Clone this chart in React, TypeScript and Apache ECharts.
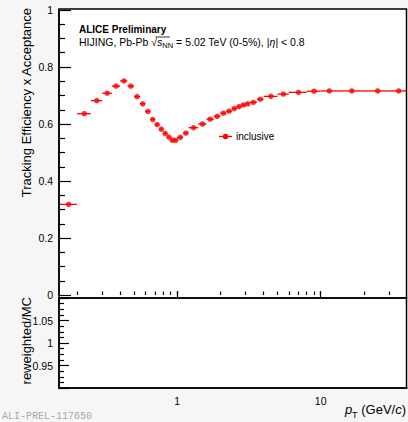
import React, { useEffect, useRef } from 'react';
import * as echarts from 'echarts';

// pT bin edges (GeV/c)
const binEdges = [
  0.15, 0.2, 0.25, 0.3, 0.35, 0.4, 0.45, 0.5, 0.55, 0.6, 0.65, 0.7, 0.75, 0.8, 0.85, 0.9, 0.95, 1.0,
  1.1, 1.2, 1.4, 1.6, 1.8, 2.0, 2.2, 2.4, 2.6, 2.8, 3.0, 3.2, 3.6, 4.0, 5.0, 6.0, 8.0, 10, 13, 20, 30, 40,
];
// Tracking efficiency x acceptance ("inclusive")
const efficiency = [
  0.318, 0.636, 0.682, 0.708, 0.733, 0.751, 0.733, 0.696, 0.671, 0.644, 0.616, 0.598, 0.582, 0.567,
  0.554, 0.543, 0.543, 0.553, 0.568, 0.587, 0.6, 0.617, 0.627, 0.638, 0.645, 0.654, 0.661, 0.667,
  0.671, 0.676, 0.687, 0.697, 0.705, 0.711, 0.715, 0.716, 0.716, 0.716, 0.716,
];
const xMajorTicks = [1, 10];
const xMinorTicks = [0.2, 0.3, 0.4, 0.5, 0.6, 0.7, 0.8, 0.9, 2, 3, 4, 5, 6, 7, 8, 9, 20, 30];
const xMin = 0.15;
const xMax = 40;
const legendLabel = 'inclusive';
const yTitleTop = 'Tracking Efficiency x Acceptance';
const yTitleBottom = 'reweighted/MC';

const FONT = '"Liberation Sans", Arial, Helvetica, sans-serif';
const RED = '#ff0000';

export default function App() {
  const ref = useRef<HTMLDivElement>(null);
  useEffect(() => {
    const chart = echarts.init(ref.current!, null, { renderer: 'svg' });
    const errData = efficiency.map((e, i) => [binEdges[i], binEdges[i + 1], e]);
    const pts = efficiency.map((e, i) => [(binEdges[i] + binEdges[i + 1]) / 2, e]);
    const black = { color: '#000' };
    const option: any = {
      animation: false,
      backgroundColor: '#f6f6f6',
      textStyle: { fontFamily: FONT },
      grid: [
        { left: 59, top: 10, width: 348, height: 285 },
        { left: 59, top: 298, width: 348, height: 90 },
      ],
      xAxis: [
        {
          type: 'log', gridIndex: 0, position: 'bottom', min: xMin, max: xMax, offset: 3,
          axisLine: { show: false },
          axisTick: { show: true, inside: true, length: 3.5, customValues: [...xMinorTicks, ...xMajorTicks], lineStyle: { ...black, width: 1.2 } },
          axisLabel: { show: false },
          splitLine: { show: false },
        },
        {
          type: 'log', gridIndex: 1, position: 'bottom', min: xMin, max: xMax,
          axisLine: { show: true, lineStyle: { ...black, width: 1.5 } },
          axisTick: { show: false },
          axisLabel: {
            show: true, customValues: xMajorTicks, fontSize: 10.5, color: '#000', margin: 7, fontFamily: FONT,
            formatter: (v: number) => String(v),
          },
          splitLine: { show: false },
        },
        {
          // long ticks at the decades, pointing up into the upper panel from the shared edge
          type: 'log', gridIndex: 1, position: 'top', min: xMin, max: xMax,
          axisLine: { show: false },
          axisTick: { show: true, inside: false, length: 7, customValues: xMajorTicks, lineStyle: { ...black, width: 1.2 } },
          axisLabel: { show: false },
          splitLine: { show: false },
        },
      ],
      yAxis: [
        {
          type: 'value', gridIndex: 0, position: 'left', min: 0, max: 1, interval: 0.2,
          axisLine: { show: true, lineStyle: { ...black, width: 1.5 } },
          axisTick: { show: true, inside: true, length: 12, lineStyle: { ...black, width: 1.2 } },
          minorTick: { show: true, splitNumber: 4, length: 6, lineStyle: { ...black, width: 1.2 } },
          axisLabel: { fontSize: 10.5, color: '#000', margin: 6, fontFamily: FONT },
          splitLine: { show: false },
        },
        {
          type: 'value', gridIndex: 1, position: 'left', min: 0.9, max: 1.1, interval: 0.05,
          axisLine: { show: true, lineStyle: { ...black, width: 1.5 } },
          axisTick: { show: true, inside: true, length: 10, lineStyle: { ...black, width: 1.2 } },
          minorTick: { show: true, splitNumber: 4, length: 5, lineStyle: { ...black, width: 1.2 } },
          axisLabel: { fontSize: 10.5, color: '#000', margin: 6, fontFamily: FONT, showMinLabel: false, showMaxLabel: false },
          splitLine: { show: false },
        },
      ],
      series: [
        {
          type: 'custom', name: legendLabel, xAxisIndex: 0, yAxisIndex: 0,
          data: errData,
          encode: { x: [0, 1], y: 2 },
          renderItem: (params: any, api: any) => {
            const a = api.coord([api.value(0), api.value(2)]);
            const b = api.coord([api.value(1), api.value(2)]);
            return {
              type: 'line',
              shape: { x1: a[0], y1: a[1], x2: b[0], y2: b[1] },
              style: { stroke: RED, lineWidth: 1.3 },
            };
          },
          z: 3,
        },
        {
          type: 'scatter', name: legendLabel, xAxisIndex: 0, yAxisIndex: 0,
          data: pts, symbol: 'circle', symbolSize: 5.5,
          itemStyle: { color: RED }, z: 4,
        },
        {
          type: 'scatter', name: 'ratio', xAxisIndex: 1, yAxisIndex: 1, data: [],
        },
      ],
      graphic: [
        { type: 'rect', z: -10, shape: { x: 59, y: 9, width: 348, height: 289 }, style: { fill: '#fff' }, silent: true },
        { type: 'rect', z: -10, shape: { x: 59, y: 298, width: 348, height: 90 }, style: { fill: '#fff' }, silent: true },
        { type: 'rect', z: 100, shape: { x: 59, y: 9, width: 347.5, height: 289 }, style: { fill: 'none', stroke: '#000', lineWidth: 1.5 }, silent: true },
        { type: 'rect', z: 100, shape: { x: 59, y: 298, width: 347.5, height: 90 }, style: { fill: 'none', stroke: '#000', lineWidth: 1.5 }, silent: true },
        {
          type: 'text', x: 79, y: 29.5, z: 100,
          style: { text: 'ALICE Preliminary', font: `bold 10px ${FONT}`, fill: '#000', textAlign: 'left', textVerticalAlign: 'middle' },
        },
        {
          type: 'text', x: 79, y: 41.7, z: 100,
          style: {
            text: '{n|HIJING, Pb-Pb }{n|\u221A}{i|s}{sub|NN}{n| = 5.02 TeV (0-5%), |}{i|\u03B7}{n|| < 0.8}',
            textAlign: 'left', textVerticalAlign: 'middle', fill: '#000',
            rich: {
              n: { fontSize: 10.5, fontFamily: FONT, lineHeight: 16, fill: '#000' },
              i: { fontSize: 10.5, fontFamily: FONT, fontStyle: 'italic', lineHeight: 16, fill: '#000' },
              sub: { fontSize: 7.5, fontFamily: FONT, lineHeight: 8, verticalAlign: 'bottom', fill: '#000' },
            },
          },
        },
        // square-root overline
        { type: 'line', z: 100, shape: { x1: 155.5, y1: 37, x2: 170, y2: 37 }, style: { stroke: '#000', lineWidth: 0.8 } },
        // legend
        { type: 'line', z: 100, shape: { x1: 219, y1: 136.5, x2: 232, y2: 136.5 }, style: { stroke: RED, lineWidth: 1.3 } },
        { type: 'circle', z: 101, shape: { cx: 225.5, cy: 136.5, r: 2.8 }, style: { fill: RED } },
        {
          type: 'text', x: 236, y: 136.5, z: 100,
          style: { text: legendLabel, font: `10px ${FONT}`, fill: '#000', textAlign: 'left', textVerticalAlign: 'middle' },
        },
        // axis titles
        {
          type: 'text', x: 26, y: 8, rotation: Math.PI / 2, z: 100,
          style: { text: yTitleTop, font: `13px ${FONT}`, fill: '#000', textAlign: 'right', textVerticalAlign: 'middle' },
        },
        {
          type: 'text', x: 26, y: 297, rotation: Math.PI / 2, z: 100,
          style: { text: yTitleBottom, font: `13px ${FONT}`, fill: '#000', textAlign: 'right', textVerticalAlign: 'middle' },
        },
        {
          type: 'text', x: 406, y: 409, z: 100,
          style: {
            text: '{i|p}{sub|T}{n| (GeV/}{i|c}{n|)}',
            textAlign: 'right', textVerticalAlign: 'middle', fill: '#000',
            rich: {
              n: { fontSize: 13, fontFamily: FONT, lineHeight: 20, fill: '#000' },
              i: { fontSize: 13, fontFamily: FONT, fontStyle: 'italic', lineHeight: 20, fill: '#000' },
              sub: { fontSize: 9, fontFamily: FONT, lineHeight: 10, verticalAlign: 'bottom', fill: '#000' },
            },
          },
        },
        {
          type: 'text', x: 2, y: 416.5, z: 100,
          style: { text: 'ALI-PREL-117650', font: `10px "Liberation Mono", "DejaVu Sans Mono", monospace`, fill: '#a8a8a8', textAlign: 'left', textVerticalAlign: 'middle' },
        },
      ],
    };
    chart.setOption(option);
    return () => chart.dispose();
  }, []);
  return <div ref={ref} style={{ position: 'fixed', left: 0, top: 0, width: 408, height: 422 }} />;
}
